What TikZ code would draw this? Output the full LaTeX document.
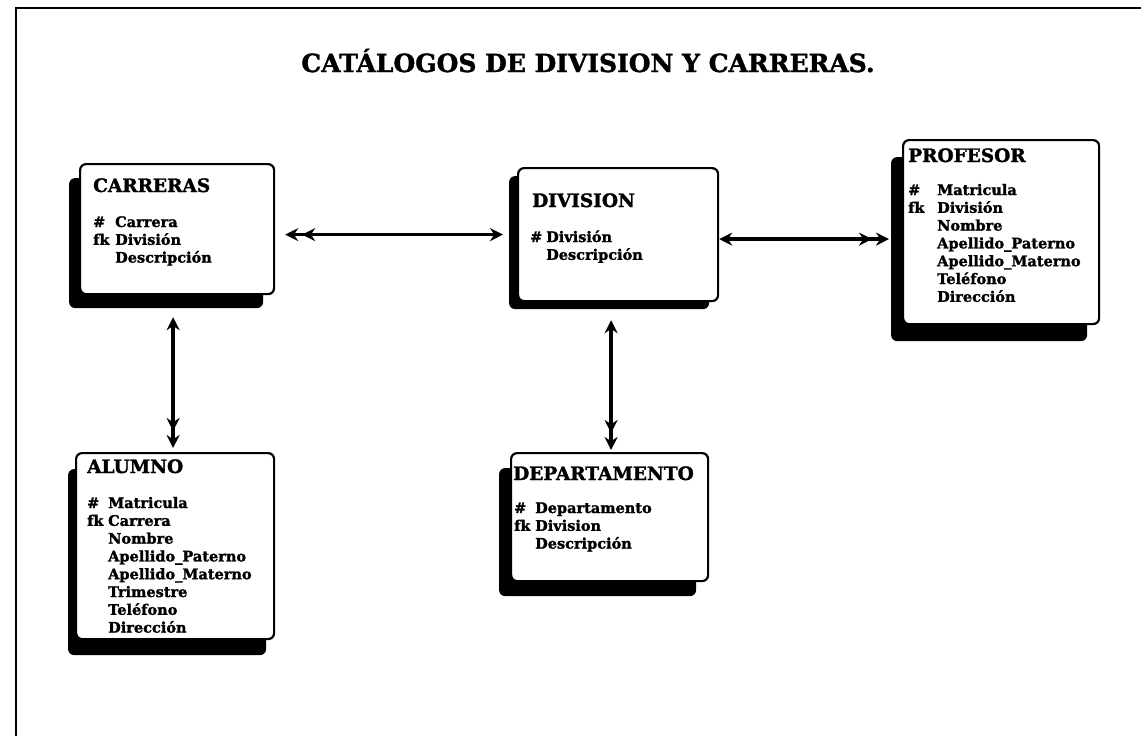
\documentclass[tikz,border=0pt]{standalone}
\usepackage{fontspec}
\setmainfont{DejaVu Serif}[BoldFeatures={FakeBold=1.6}]
\usetikzlibrary{arrows.meta,shadows}
\newcommand{\erfields}[2]{\begin{tabular}[t]{@{}p{#1}@{}l@{}}#2\end{tabular}}
\tikzset{
  sgl/.tip={Stealth[length=13pt,width=13pt]},
  dbl/.tip={Stealth[length=13pt,width=13pt,sep=4pt] Stealth[length=13pt,width=13pt]}
}
\begin{document}
\begin{tikzpicture}[x=1pt,y=-1pt,
  ent/.style={draw=black, line width=2.2pt, fill=white, rounded corners=6pt, anchor=north west, inner sep=0pt},
  shd/.style 2 args={drop shadow={shadow xshift=#1, shadow yshift=#2, fill=black, opacity=1}},
  hd/.style={anchor=base west, inner sep=0pt, font=\fontsize{18.5}{22}\selectfont\bfseries},
  fl/.style={anchor=base west, inner sep=0pt, font=\fontsize{14.5}{17.8}\selectfont\bfseries},
  conn/.style={line width=3.6pt}
]
\useasboundingbox (0,0) rectangle (1141,736);
\fill[white] (0,0) rectangle (1141,736);
\draw[line width=2.5pt] (16,736) -- (16,8) -- (1141,8);

\node[anchor=base, inner sep=0pt, font=\fontsize{25}{30}\selectfont\bfseries] (title) at (588,72) {CATÁLOGOS DE DIVISION Y CARRERAS.};

% CARRERAS
\node[ent, shd={-11pt}{-14pt}, minimum width=194pt, minimum height=130pt] (car) at (79,163) {};
\node[hd] (carH) at (93,192) {CARRERAS};
\node[fl] (carF) at (93,227) {\erfields{22pt}{\# & Carrera\\ fk & División\\ & Descripción}};

% DIVISION
\node[ent, shd={-9pt}{-8pt}, minimum width=200pt, minimum height=133pt] (div) at (517,167) {};
\node[hd] (divH) at (532,207) {DIVISION};
\node[fl] (divF) at (530,242) {\erfields{16pt}{\# & División\\ & Descripción}};

% PROFESOR
\node[ent, shd={-12pt}{-17pt}, minimum width=196pt, minimum height=184pt] (prof) at (902,139) {};
\node[hd] (profH) at (908,162) {PROFESOR};
\node[fl] (profF) at (908,195) {\erfields{29pt}{\# & Matricula\\ fk & División\\ & Nombre\\ & Apellido\_Paterno\\ & Apellido\_Materno\\ & Teléfono\\ & Dirección}};

% ALUMNO
\node[ent, shd={-8pt}{-16pt}, minimum width=198pt, minimum height=186pt] (alu) at (75,452) {};
\node[hd] (aluH) at (87,473) {ALUMNO};
\node[fl] (aluF) at (87,508) {\erfields{21pt}{\# & Matricula\\ fk & Carrera\\ & Nombre\\ & Apellido\_Paterno\\ & Apellido\_Materno\\ & Trimestre\\ & Teléfono\\ & Dirección}};

% DEPARTAMENTO
\node[ent, shd={-12pt}{-15pt}, minimum width=197pt, minimum height=128pt] (dep) at (510,452) {};
\node[hd] (depH) at (513,480) {DEPARTAMENTO};
\node[fl] (depF) at (514,513) {\erfields{21pt}{\# & Departamento\\ fk & Division\\ & Descripción}};

% connectors
\draw[conn, dbl-sgl, shorten <=10pt, shorten >=14pt] (car.east |- div.west) -- (div.west);
\draw[conn, sgl-dbl, shorten >=13pt] ([yshift=-4.5pt]div.east) -- ([yshift=-4.5pt]div.east -| prof.west);
\draw[conn, sgl-dbl, shorten <=22pt, shorten >=4pt] ([xshift=-4pt]car.south) -- ([xshift=-4pt]car.south |- alu.north);
\draw[conn, sgl-dbl, shorten <=18pt, shorten >=2pt] ([xshift=-7pt]div.south) -- ([xshift=-7pt]div.south |- dep.north);
\end{tikzpicture}
\end{document}
